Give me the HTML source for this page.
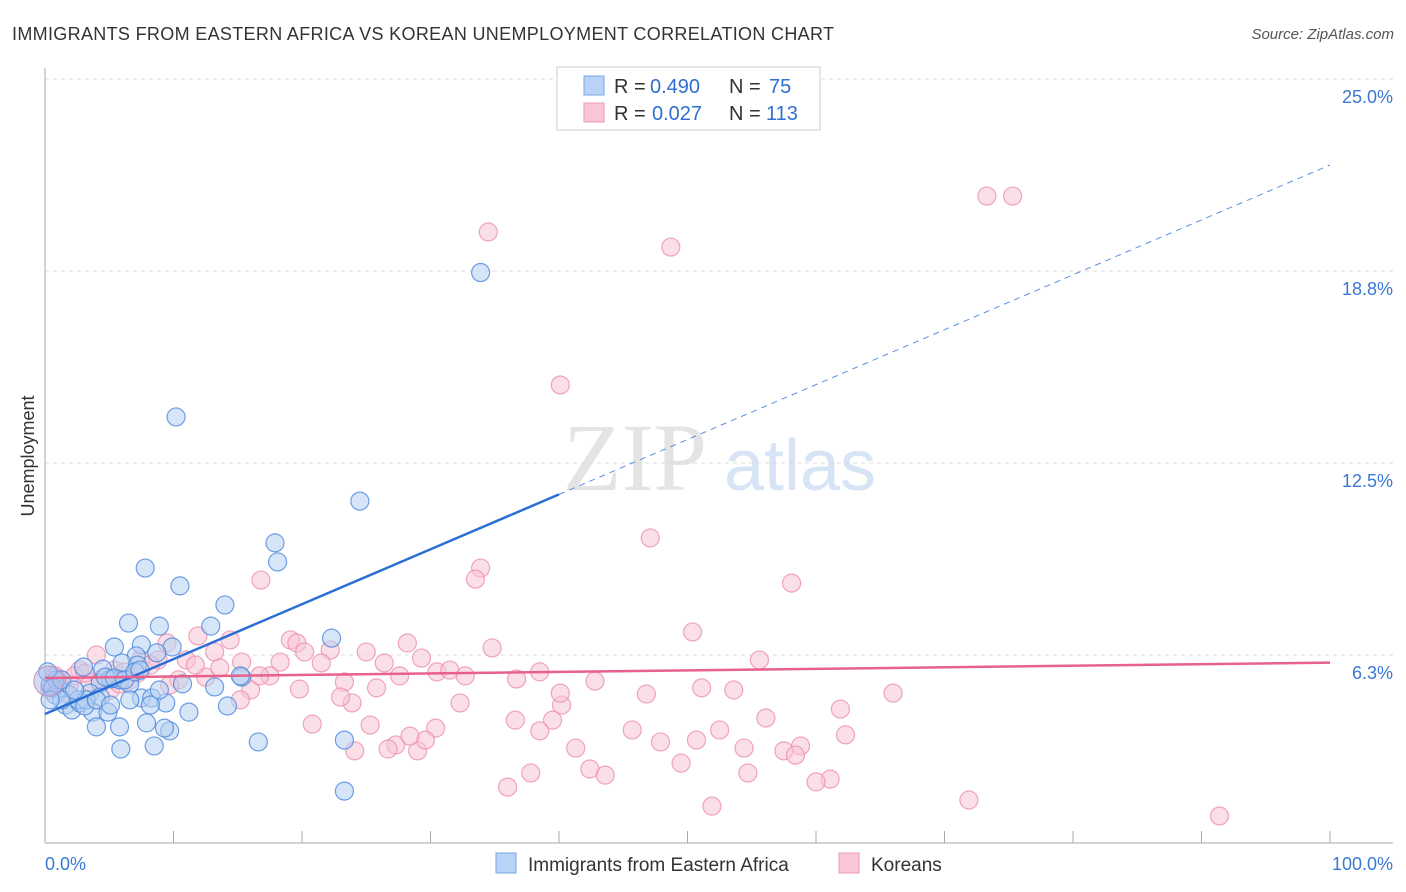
<!DOCTYPE html>
<html><head><meta charset="utf-8"><style>
body{margin:0;background:#fff;font-family:"Liberation Sans",sans-serif;}
svg{display:block}
</style></head><body>
<svg id="c" width="1406" height="892" xmlns="http://www.w3.org/2000/svg">
<text x="12" y="40" font-size="18" fill="#333" textLength="822">IMMIGRANTS FROM EASTERN AFRICA VS KOREAN UNEMPLOYMENT CORRELATION CHART</text>
<text x="1394" y="39" font-size="15" fill="#555" text-anchor="end" font-style="italic">Source: ZipAtlas.com</text>
<text x="34" y="456" font-size="18" fill="#333" text-anchor="middle" transform="rotate(-90 34 456)">Unemployment</text>
<g><text x="635" y="490" font-size="96" font-family="Liberation Serif,serif" fill="#e4e4e4" text-anchor="middle">ZIP</text><text x="800" y="490" font-size="72" fill="#d6e4f5" text-anchor="middle">atlas</text></g>
<g id="grid"></g><g id="axes"></g><g id="pts"></g><g id="lines"></g>
<g>
<rect x="557" y="67" width="263" height="63" fill="#fff" stroke="#ccc"/>
<rect x="584" y="76" width="20" height="19" fill="#b8d3f5" stroke="#7aa7e0"/>
<text x="614" y="93" font-size="20" fill="#333">R =</text><text x="650" y="93" font-size="20" fill="#2f6fd1">0.490</text>
<text x="729" y="93" font-size="20" fill="#333">N =</text><text x="769" y="93" font-size="20" fill="#2f6fd1">75</text>
<rect x="584" y="103" width="20" height="19" fill="#f8c6d6" stroke="#eb9ab5"/>
<text x="614" y="120" font-size="20" fill="#333">R =</text><text x="652" y="120" font-size="20" fill="#2f6fd1">0.027</text>
<text x="729" y="120" font-size="20" fill="#333">N =</text><text x="766" y="120" font-size="20" fill="#2f6fd1">113</text>
</g>
<g>
<rect x="496" y="853" width="20" height="20" fill="#b8d3f5" stroke="#7aa7e0"/>
<text x="528" y="871" font-size="19" fill="#333">Immigrants from Eastern Africa</text>
<rect x="839" y="853" width="20" height="20" fill="#f8c6d6" stroke="#eb9ab5"/>
<text x="871" y="871" font-size="19" fill="#333">Koreans</text>
</g>
</svg>
<script>
const yTicks=[6.25,12.5,18.75,25];
const yTickLabels=["6.3%","12.5%","18.8%","25.0%"];
const xTickLabels=["0.0%","100.0%"];
const blueX=[33.9,10.2,24.5,17.9,18.1,7.8,10.5,14.0,6.5,8.9,12.9,22.3,5.4,7.5,9.9,7.1,8.7,3.0,4.5,6.0,7.2,4.3,5.8,6.6,5.1,10.7,13.2,15.3,1.2,1.9,3.5,4.3,7.5,8.3,9.4,0.4,0.8,1.6,2.1,2.7,3.7,4.9,5.8,4.0,7.9,11.2,14.2,9.7,8.5,5.9,16.6,23.3,23.3,0.9,0.2,0.6,1.3,2.6,3.2,4.7,5.4,6.2,7.0,8.2,8.9,15.2,6.6,1.3,2.3,3.1,4.0,5.1,9.3,7.4,0.4];
const blueY=[18.7,14.0,11.26,9.9,9.28,9.08,8.5,7.88,7.29,7.19,7.19,6.8,6.51,6.58,6.51,6.22,6.32,5.86,5.79,5.99,5.92,5.34,5.44,5.31,5.47,5.31,5.21,5.53,5.11,4.95,5.01,4.88,4.85,4.85,4.69,5.27,4.95,4.62,4.46,4.69,4.39,4.39,3.91,3.91,4.04,4.39,4.59,3.78,3.29,3.19,3.42,3.48,1.82,5.44,5.70,5.18,4.79,4.79,4.79,5.53,5.50,5.44,5.70,4.62,5.11,5.57,4.79,5.44,5.11,4.59,4.79,4.62,3.87,5.76,4.79];
const pinkX=[73.3,75.3,34.5,48.7,40.1,47.1,33.9,33.5,58.1,16.8,50.4,28.2,34.8,19.1,19.6,14.4,11.9,9.5,55.6,25.0,20.2,22.2,21.5,26.4,29.3,15.3,18.3,13.2,11.0,8.8,7.4,4.0,2.7,30.5,31.5,32.7,38.5,36.7,42.8,27.6,23.3,25.8,19.8,16.0,17.5,12.5,10.4,66.0,51.1,53.6,46.8,61.9,40.2,32.3,23.9,23.0,36.6,39.5,45.7,52.5,56.1,20.8,25.3,30.4,62.3,38.5,47.9,50.7,54.4,58.8,57.5,58.4,41.3,27.3,26.7,29.0,29.6,24.1,49.5,42.4,43.6,54.7,37.8,36.0,61.1,60.0,51.9,71.9,91.4,1.2,1.9,3.5,5.1,6.6,8.2,4.3,0.8,2.3,5.8,7.2,16.7,13.6,40.1,28.4,9.7,0.4,1.6,3.1,5.4,6.2,11.7,15.2];
const pinkY=[21.19,21.19,20.02,19.53,15.04,10.06,9.08,8.72,8.59,8.69,7.0,6.64,6.48,6.74,6.64,6.74,6.87,6.64,6.09,6.35,6.35,6.41,5.99,5.99,6.15,6.02,6.02,6.35,6.09,6.09,6.09,6.25,5.76,5.70,5.76,5.57,5.70,5.47,5.40,5.57,5.37,5.18,5.14,5.11,5.57,5.53,5.44,5.01,5.18,5.11,4.98,4.49,4.62,4.69,4.69,4.88,4.13,4.13,3.81,3.81,4.20,4.0,3.97,3.87,3.65,3.78,3.42,3.48,3.22,3.29,3.13,2.99,3.22,3.32,3.19,3.13,3.48,3.13,2.73,2.54,2.34,2.41,2.41,1.95,2.21,2.12,1.33,1.53,1.01,5.44,5.27,5.37,5.11,5.44,5.92,5.44,5.57,5.57,5.31,5.66,5.57,5.83,5.01,3.61,5.27,5.11,5.01,5.66,5.76,5.70,5.92,4.79];
const blueTrend=[4.33,22.2];
const pinkTrend=[5.5,6.0];
const NS="http://www.w3.org/2000/svg";
const X=v=>45+v*12.85, Y=v=>847-v*30.72;
function mk(p,t,a){const e=document.createElementNS(NS,t);for(const k in a)e.setAttribute(k,a[k]);document.getElementById(p).appendChild(e);return e;}
yTicks.forEach((t,i)=>{
 const g=mk('grid','line',{x1:45,x2:1393,y1:Y(t),y2:Y(t),stroke:'#ddd','stroke-dasharray':'4 4'});
 
 
 const l=mk('grid','text',{x:1393,y:Y(t)+24,'font-size':18,fill:'#3a78d4','text-anchor':'end'});l.textContent=yTickLabels[i];
 
 
});
mk('axes','line',{x1:45,x2:45,y1:68,y2:843,stroke:'#aaa'});
mk('axes','line',{x1:45,x2:1393,y1:843,y2:843,stroke:'#aaa'});
for(let i=0;i<=10;i++){const t=mk('axes','line',{x1:X(i*10),x2:X(i*10),y1:831,y2:843,stroke:'#aaa'});}
[[0,'start',45],[1,'end',1393]].forEach(([i,a,x])=>{const l=mk('axes','text',{x:x,y:870,'font-size':18,fill:'#3a78d4','text-anchor':a});l.textContent=xTickLabels[i];
 
 });
function pts(xs,ys,f,s,n){xs.forEach((x,i)=>{const c=mk('pts','circle',{cx:X(x),cy:Y(ys[i]),r:9,fill:f,'fill-opacity':0.55,stroke:s,'stroke-opacity':0.8,'stroke-width':1.2});
 
 });}
pts(pinkX,pinkY,'#f7c4d4','#ec8fae','korean-point');
pts(blueX,blueY,'#b6d0f3','#4a88de','eastern-africa-point');
const bb=mk('pts','circle',{cx:X(0.3),cy:Y(5.4),r:15,fill:'#a8b8e8','fill-opacity':0.5,stroke:'#c68fb8'});


const bs=mk('lines','line',{x1:X(0),y1:Y(blueTrend[0]),x2:X(40),y2:Y(blueTrend[0]+(blueTrend[1]-blueTrend[0])*0.4),stroke:'#2a6fd6','stroke-width':2.5});


const bd=mk('lines','line',{x1:X(40),y1:Y(blueTrend[0]+(blueTrend[1]-blueTrend[0])*0.4),x2:X(100),y2:Y(blueTrend[1]),stroke:'#5a8fe0','stroke-width':1,'stroke-dasharray':'6 5'});


const pl=mk('lines','line',{x1:X(0),y1:Y(pinkTrend[0]),x2:X(100),y2:Y(pinkTrend[1]),stroke:'#e8618c','stroke-width':2.5});


</script>
</body></html>
